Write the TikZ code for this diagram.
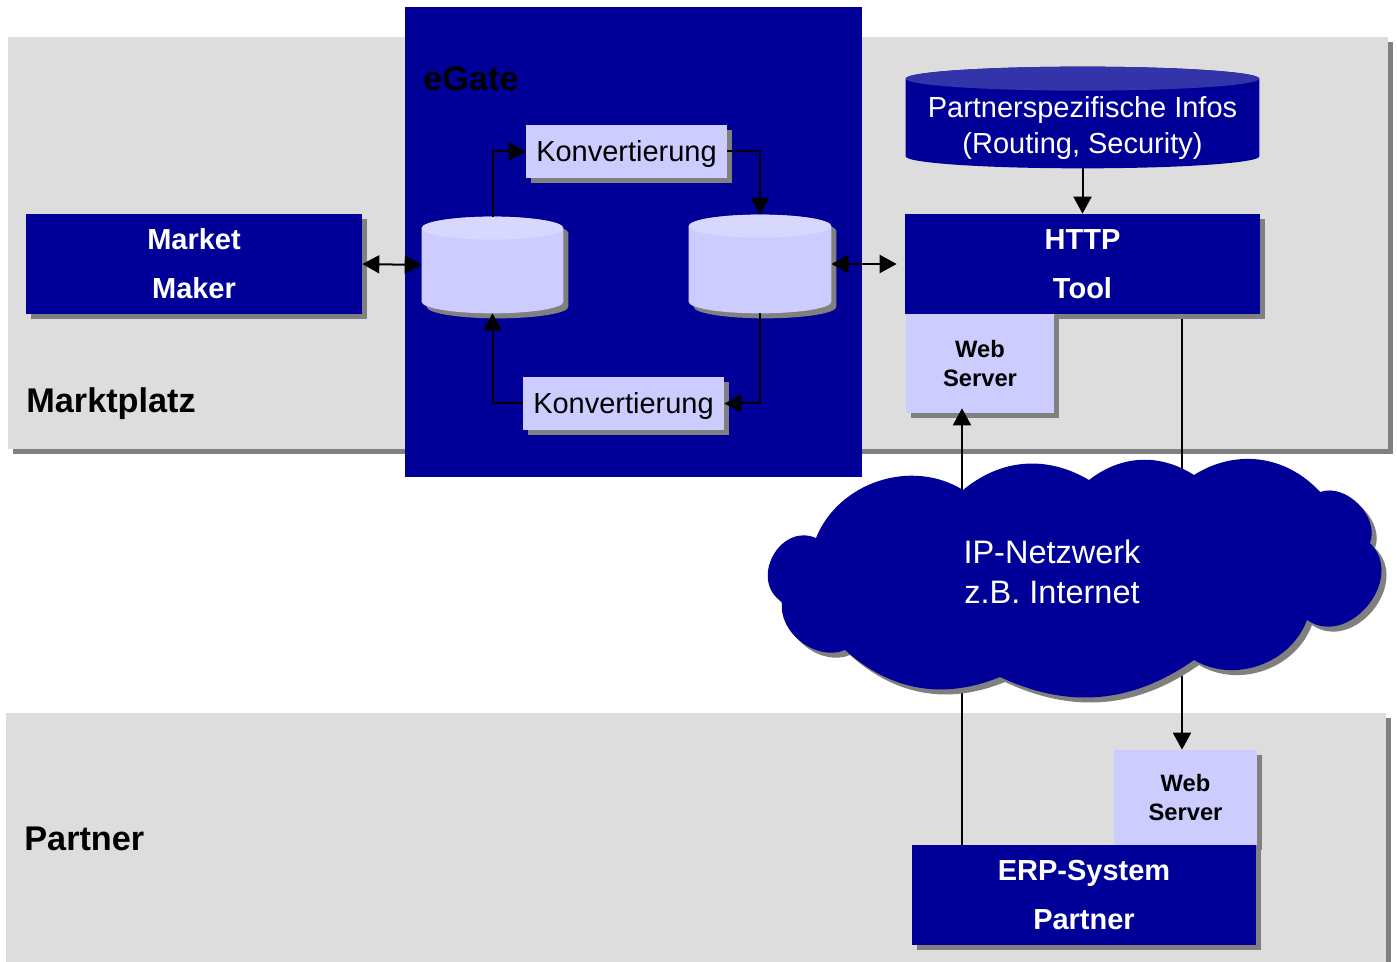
\documentclass[tikz,border=0pt]{standalone}
\usepackage{fontspec}
\setmainfont{Liberation Sans}
\usetikzlibrary{positioning, calc, shadows, arrows.meta}
\definecolor{egblue}{RGB}{0,0,153}
\definecolor{egbluetop}{RGB}{51,51,170}
\definecolor{eglight}{RGB}{204,204,255}
\definecolor{eglighttop}{RGB}{216,216,255}
\definecolor{panelgray}{RGB}{221,221,221}
\definecolor{shadowgray}{RGB}{128,128,128}
% cylinder drawn into the box of a named node: node, body, end, cap depth, offset
\newcommand{\storefill}[5]{%
  \fill[#2] let \p1=($(#1.north west)+(#5,-#5)$), \p2=($(#1.south east)+(#5,-#5)$), \n1={(\x2-\x1)/2} in
    (\x1,\y1-#4) -- (\x1,\y2+#4) arc[start angle=180, end angle=360, x radius=\n1, y radius=#4]
    -- (\x2,\y1-#4) arc[start angle=0, end angle=180, x radius=\n1, y radius=#4] -- cycle;
  \fill[#3] let \p1=($(#1.north west)+(#5,-#5)$), \p2=($(#1.south east)+(#5,-#5)$), \n1={(\x2-\x1)/2} in
    (\x1+\n1,\y1-#4) ellipse[x radius=\n1, y radius=#4];
}
\tikzset{
    %Define style for shadows
    grayshadow/.style={
           drop shadow={shadow xshift=0.1cm, shadow yshift=-0.1cm,
                        fill=shadowgray, opacity=1}},
 %
    panel/.style={
           rectangle,
           fill=panelgray,
           inner sep=0pt,
           grayshadow},
 %
    darkbox/.style={
           rectangle,
           fill=egblue,
           text=white,
           inner sep=0pt,
           align=center,
           font=\bfseries\fontsize{16.5}{27.8}\selectfont,
           grayshadow},
 %
    lightbox/.style={
           rectangle,
           fill=eglight,
           text=black,
           inner sep=0pt,
           text height=11.8pt,
           text depth=0pt,
           font=\fontsize{16.5}{20}\selectfont,
           grayshadow},
 %
    serverbox/.style={
           rectangle,
           fill=eglight,
           text=black,
           inner sep=0pt,
           align=center,
           font=\bfseries\fontsize{13.5}{17}\selectfont,
           grayshadow},
 %
    storebox/.style={
           rectangle,
           inner sep=0pt},
 %
    title/.style={
           anchor=base west,
           text=black,
           inner sep=0pt,
           font=\bfseries\fontsize{19.5}{23}\selectfont},
%
    % Define arrow style
    arrow/.style={
           -{Triangle[length=0.34cm, width=0.36cm]},
           line width=0.04cm},
    dblarrow/.style={
           {Triangle[length=0.34cm, width=0.36cm]}-{Triangle[length=0.34cm, width=0.36cm]},
           line width=0.04cm}
}
\begin{document}
\begin{tikzpicture}[x=0.02cm, y=-0.02cm]
  \useasboundingbox (0,0) rectangle (1397,962);

  % panels
  \node[panel, minimum width=27.6cm, minimum height=8.24cm] (markt) at (698,243) {};
  \node[panel, minimum width=27.6cm, minimum height=5.24cm] (partner) at (696,844) {};
  \node[rectangle, fill=egblue, inner sep=0pt, minimum width=9.14cm, minimum height=9.4cm] (egate) at (633.5,242) {};

  \node[title] (markttitle) at (26,413) {Marktplatz};
  \node[title] (partnertitle) at (24,850) {Partner};
  \node[title] (egatetitle) at (423,91) {eGate};

  % boxes
  \node[darkbox, minimum width=6.72cm, minimum height=2cm] (mm) at (194,264) {Market\\Maker};
  \node[lightbox, minimum width=4.02cm, minimum height=1.06cm] (konvT) at (626.5,151.5) {Konvertierung};
  \node[lightbox, minimum width=4.02cm, minimum height=1.06cm] (konvB) at (623.5,403.5) {Konvertierung};

  % stores
  \node[storebox, minimum width=2.82cm, minimum height=1.92cm] (cylL) at (492.5,265) {};
  \node[storebox, minimum width=2.84cm, minimum height=1.96cm] (cylR) at (760,264) {};
  \node[storebox, minimum width=7.06cm, minimum height=2.02cm] (infos) at (1082.5,117.5) {};
  \foreach \cyl in {cylL, cylR} {
    \storefill{\cyl}{shadowgray}{shadowgray}{0.23cm}{0.1cm}
    \storefill{\cyl}{eglight}{eglighttop}{0.23cm}{0cm}
  }
  \storefill{infos}{egblue}{egbluetop}{0.24cm}{0cm}
  \node[text=white, align=center, font=\fontsize{16.5}{20.4}\selectfont] (infostext) at (1082.5,128)
        {Partnerspezifische Infos\\(Routing, Security)};

  \node[darkbox, minimum width=7.1cm, minimum height=2cm] (http) at (1082.5,264) {HTTP\\Tool};
  \node[serverbox, minimum width=2.96cm, minimum height=1.98cm] (wsM) at (980,363.5) {Web\\Server};

  \node[serverbox, minimum width=2.86cm, minimum height=1.9cm] (wsP) at (1185.5,797.5) {Web\\Server};
  \node[darkbox, minimum width=6.88cm, minimum height=2cm] (erp) at (1084,895) {ERP-System\\Partner};

  % connectors
  \draw[dblarrow] (mm.east) -- (cylL.west);
  \draw[dblarrow, shorten >=0.16cm] (cylR.east) -- (http.west);
  \draw[arrow] (cylL.north) |- (konvT.west);
  \draw[arrow] (konvT.east) -| (cylR.north);
  \draw[arrow] (cylR.south) |- (konvB.east);
  \draw[arrow] (konvB.west) -| (cylL.south);
  \draw[arrow] (infos.south) -- (http.north);

  \coordinate (netL) at (962,0);
  \coordinate (netR) at (1182,0);
  \draw[arrow, shorten >=-0.1cm] (erp.north -| netL) -- (wsM.south -| netL);
  \draw[arrow] ([yshift=-0.1cm]http.south -| netR) -- (wsP.north -| netR);

  % network cloud
  \fill[egblue, grayshadow]
    (816,538) to[bend left=50] (963,490) to[bend left=35] (1089,480)
    to[bend left=35] (1194,475) to[bend left=40] (1320,492)
    to[bend left=65] (1370,543) to[bend left=85, looseness=1.3] (1307,620)
    to[bend left=50] (1194,660) to[bend left=30] (1000,677)
    to[bend left=32] (845,650) to[bend left=60] (782,602)
    to[bend left=85, looseness=1.4] cycle;
  \node[text=white, align=center, font=\fontsize{18.5}{23.2}\selectfont] (nettext) at (1052,572)
        {IP-Netzwerk\\z.B. Internet};
\end{tikzpicture}
\end{document}
